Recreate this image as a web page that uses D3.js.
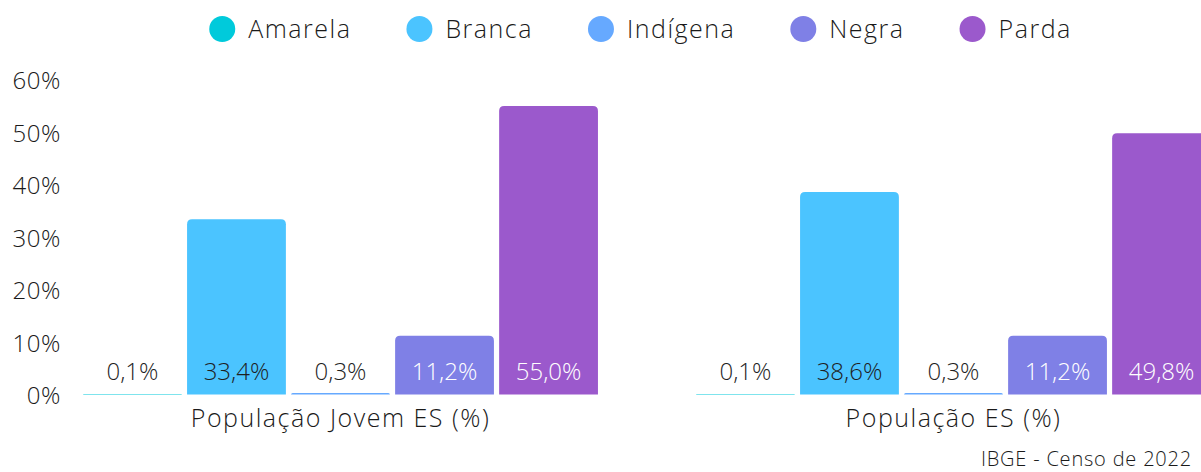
<!DOCTYPE html>
<html>
<head>
<meta charset="utf-8">
<script src="https://cdn.jsdelivr.net/npm/d3@7"></script>
<style>
html,body{margin:0;padding:0;background:#fff;overflow:hidden;}
svg{display:block;font-family:"Open Sans", Lato, sans-serif;font-weight:300;}
</style>
</head>
<body>
<svg id="chart" width="1201" height="472"></svg>
<script>
const groups = ["População Jovem ES (%)", "População ES (%)"];
const categories = ["Amarela", "Branca", "Indígena", "Negra", "Parda"];
const colors = ["#00CADB", "#4BC4FF", "#66A9FF", "#7F80E6", "#9B59CC"];
const labelColors = ["#1f1f1f", "#1f1f1f", "#1f1f1f", "#ffffff", "#ffffff"];
const valuesJovem = [0.1, 33.4, 0.3, 11.2, 55.0];
const valuesTotal = [0.1, 38.6, 0.3, 11.2, 49.8];
const yTicks = [0, 10, 20, 30, 40, 50, 60];
const source = "IBGE - Censo de 2022";

const seriesValues = [valuesJovem, valuesTotal];
const svg = d3.select("#chart");
const textColor = "#1a1a1a";
const FONT = '"Open Sans", Lato, sans-serif';

const y = d3.scaleLinear().domain([0, 60]).range([394.5, 79.8]);
const x0 = d3.scaleBand().domain(groups).range([34, 1260]).paddingInner(0.16).paddingOuter(0.08);
const x1 = d3.scaleBand().domain(categories).range([0, x0.bandwidth()]).paddingInner(0.05).paddingOuter(0);
const color = d3.scaleOrdinal().domain(categories).range(colors);
const lblColor = d3.scaleOrdinal().domain(categories).range(labelColors);

// y axis
const yAxis = d3.axisLeft(y).tickValues(yTicks).tickFormat(d => d + "%").tickSize(0).tickPadding(0);
const ga = svg.append("g").attr("transform", "translate(61,1.5)").call(yAxis);
ga.select(".domain").remove();
ga.selectAll("text").attr("font-size", 24).attr("fill", textColor).attr("font-family", FONT)
  .attr("font-weight", 300).attr("letter-spacing", 0.6);

function topRounded(x, yTop, w, h, r) {
  r = Math.min(r, h, w / 2);
  const b = yTop + h;
  return `M${x},${b}V${yTop + r}Q${x},${yTop} ${x + r},${yTop}H${x + w - r}Q${x + w},${yTop} ${x + w},${yTop + r}V${b}Z`;
}

const data = groups.map((g, gi) => ({
  group: g,
  items: categories.map((c, ci) => ({ cat: c, value: seriesValues[gi][ci] }))
}));

const gg = svg.append("g").selectAll("g").data(data).join("g")
  .attr("transform", d => `translate(${x0(d.group)},0)`);

gg.selectAll("path.bar").data(d => d.items).join("path")
  .attr("class", "bar")
  .attr("fill", d => color(d.cat))
  .attr("d", d => {
    const h = y(0) - y(d.value);
    return topRounded(x1(d.cat), y(d.value), x1.bandwidth(), h, 5);
  });

gg.selectAll("text.val").data(d => d.items).join("text")
  .attr("class", "val")
  .attr("x", d => x1(d.cat) + x1.bandwidth() / 2)
  .attr("y", 380)
  .attr("text-anchor", "middle")
  .attr("font-size", 24)
  .attr("fill", d => lblColor(d.cat))
  .text(d => d.value.toFixed(1).replace(".", ",") + "%");

// x axis group labels
const xAxis = d3.axisBottom(x0).tickSize(0).tickPadding(0);
const gx = svg.append("g").attr("transform", "translate(0,409)").call(xAxis);
gx.select(".domain").remove();
gx.selectAll("text").attr("font-size", 25).attr("fill", textColor).attr("font-family", FONT)
  .attr("font-weight", 300).attr("letter-spacing", 1.5).attr("dy", "0.71em");

// legend
const lg = svg.append("g");
const items = lg.selectAll("g").data(categories).join("g");
items.append("circle").attr("r", 13).attr("cy", 29).attr("cx", 13).attr("fill", d => color(d));
items.append("text").attr("x", 39).attr("y", 38).attr("font-size", 25).attr("letter-spacing", 1.5)
  .attr("fill", textColor).text(d => d);
const widths = [];
items.each(function () {
  widths.push(39 + this.querySelector("text").getComputedTextLength());
});
const gap = 55;
const total = d3.sum(widths) + gap * (widths.length - 1);
let start = 640.5 - total / 2;
items.attr("transform", (d, i) => {
  const t = `translate(${start},0)`;
  start += widths[i] + gap;
  return t;
});

// source
svg.append("text").attr("x", 1192).attr("y", 466).attr("text-anchor", "end")
  .attr("font-size", 20).attr("letter-spacing", 0.8).attr("fill", textColor).text(source);
</script>
</body>
</html>
